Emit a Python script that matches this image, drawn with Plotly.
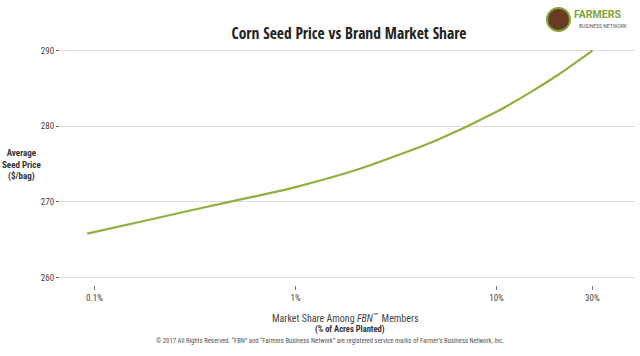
import plotly.graph_objects as go

# Data
share_pct = [0.092, 0.2, 0.3, 0.5, 1, 2, 3, 5, 10, 15, 20, 30]
seed_price = [265.8, 267.8, 268.85, 270.15, 271.95, 274.2, 275.85, 278.1, 281.9, 284.6, 286.7, 290.0]

x_tickvals = [0.1, 1, 10, 30]
x_ticktext = ["0.1%", "1%", "10%", "30%"]
y_tickvals = [260, 270, 280, 290]

FONT = "Roboto Condensed, DejaVu Sans Condensed, sans-serif"
TITLE_FONT = "Open Sans Condensed, Roboto Condensed, sans-serif"
GREEN = "#8fb03e"

fig = go.Figure()
fig.add_trace(go.Scatter(
    x=share_pct, y=seed_price, mode="lines",
    line=dict(color=GREEN, width=2.2, shape="spline"),
    hoverinfo="skip", showlegend=False,
))

W, H = 640, 356
L, R, T, B = 60, 5, 43, 71
pw, ph = W - L - R, H - T - B

def px(x):
    return (x - L) / pw

def py(y):
    return (H - B - y) / ph

fig.update_layout(
    width=W, height=H,
    margin=dict(l=L, r=R, t=T, b=B),
    paper_bgcolor="white", plot_bgcolor="white",
    font=dict(family=FONT, color="#333333", size=9),
    title=dict(
        text="<b>Corn Seed Price vs Brand Market Share</b>",
        x=349 / W, xanchor="center", xref="container",
        y=1 - 34 / H, yanchor="middle", yref="container",
        font=dict(family=TITLE_FONT, size=15.5, color="#222222"),
    ),
    xaxis=dict(
        type="log",
        range=[(60 - 295.5) / 201, (635 - 295.5) / 201],
        tickvals=x_tickvals, ticktext=x_ticktext,
        ticks="outside", ticklen=4, tickcolor="#777", tickwidth=1,
        showgrid=False, zeroline=False, showline=False,
        tickfont=dict(size=9, color="#444"),
    ),
    yaxis=dict(
        range=[259, 291],
        tickvals=y_tickvals,
        ticks="outside", ticklen=3, tickcolor="#666", tickwidth=1,
        showgrid=True, gridcolor="#dcdcdc", gridwidth=1,
        zeroline=False, showline=False,
        tickfont=dict(size=9, color="#444"),
    ),
)

annotations = [
    dict(text="<b>Average<br>Seed Price<br>($/bag)</b>", x=px(22), y=py(165),
         font=dict(size=9, color="#333")),
    dict(text="Market Share Among <i>FBN</i><sup>℠</sup> Members", x=px(345), y=py(318),
         font=dict(size=10, color="#444")),
    dict(text="<b>(% of Acres Planted)</b>", x=px(350), y=py(329.5),
         font=dict(size=8.5, color="#333")),
    dict(text="© 2017 All Rights Reserved. \u201cFBN\u201d and \u201cFarmers Business Network\u201d are registered service marks of Farmer\u2019s Business Network, Inc.",
         x=px(330), y=py(340.5), font=dict(size=6.7, color="#555")),
    dict(text="<b>FARMERS</b>", x=px(572), y=py(15), xanchor="left",
         font=dict(family="Roboto, sans-serif", size=10.5, color="#7ea63a")),
    dict(text="BUSINESS NETWORK", x=px(577), y=py(26), xanchor="left",
         font=dict(family="Roboto, sans-serif", size=5, color="#555")),
]
for a in annotations:
    a.setdefault("xanchor", "center")
    a.update(xref="paper", yref="paper", yanchor="middle", showarrow=False)
fig.update_layout(annotations=annotations)

# logo roundel
fig.add_shape(type="circle", xref="paper", yref="paper",
              x0=px(547), x1=px(570), y0=py(31), y1=py(8),
              line=dict(color="#7ea63a", width=2), fillcolor="#6b3a22")

fig.write_html("out.html", config={"displayModeBar": False},
               post_script="document.body.style.margin='0';")
